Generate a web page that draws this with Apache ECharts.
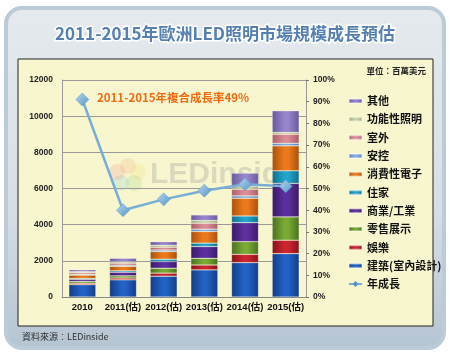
<!DOCTYPE html>
<html><head><meta charset="utf-8">
<script src="https://cdn.jsdelivr.net/npm/echarts@6/dist/echarts.min.js"></script>
<style>html,body{margin:0;padding:0;background:#fff}#c{width:450px;height:357px}</style>
</head><body><div id="c"></div>
<script>
const categories = ['2010','2011(估)','2012(估)','2013(估)','2014(估)','2015(估)'];
const jianzhu  = [680, 950, 1150, 1500, 1900, 2400];
const yule     = [80, 100, 170, 270, 460, 740];
const lingshou = [100, 120, 270, 370, 700, 1290];
const shangye  = [120, 200, 370, 650, 1050, 1850];
const zhujia   = [50, 80, 130, 190, 370, 700];
const xiaofei  = [180, 240, 420, 640, 980, 1380];
const ankong   = [50, 70, 90, 130, 130, 140];
const shiwai   = [90, 110, 150, 330, 370, 500];
const gongneng = [50, 80, 110, 150, 150, 100];
const qita     = [110, 190, 200, 310, 740, 1200];
const growth   = [91, 40, 45, 49, 52, 51];

const seriesDefs = [
  ['建築(室內設計)', jianzhu, '#2262c4', '#143c86'],
  ['娛樂', yule, '#cc2530', '#86141a'],
  ['零售展示', lingshou, '#78aa34', '#4a7020'],
  ['商業/工業', shangye, '#5d2f9e', '#3a1a66'],
  ['住家', zhujia, '#22a4cc', '#136e8c'],
  ['消費性電子', xiaofei, '#ec7a1c', '#a8500c'],
  ['安控', ankong, '#84aee4', '#5a80b8'],
  ['室外', shiwai, '#dc8c96', '#a85e68'],
  ['功能性照明', gongneng, '#c6d4a6', '#98a878'],
  ['其他', qita, '#9684cc', '#685a9c']
];
function grad(c, d){
  return new echarts.graphic.LinearGradient(0,0,1,0,[
    {offset:0,color:d},{offset:0.45,color:c},{offset:0.6,color:c},{offset:1,color:d}]);
}
const series = seriesDefs.map(s => ({
  name: s[0], type: 'bar', stack: 'total', data: s[1], barWidth: 27,
  itemStyle: {color: grad(s[2], s[3]), borderColor: 'rgba(255,255,255,0.35)', borderWidth: 0.6},
  z: 3
}));
series.push({
  name: '年成長', type: 'line', yAxisIndex: 1, data: growth,
  lineStyle: {color: '#78aed6', width: 2.5},
  itemStyle: {color: new echarts.graphic.LinearGradient(0,0,1,1,[{offset:0,color:'#b6d6ee'},{offset:1,color:'#5896c6'}]), borderColor:'#5a92c0', borderWidth:0.5},
  symbol: 'diamond', symbolSize: 13, z: 5
});

const legendOrder = ['其他','功能性照明','室外','安控','消費性電子','住家','商業/工業','零售展示','娛樂','建築(室內設計)','年成長'];
const numFont = '"Liberation Sans Narrow","Liberation Sans",Arial,sans-serif';
const cjk = '"Noto Sans CJK TC","Noto Sans CJK SC",sans-serif';

const chart = echarts.init(document.getElementById('c'), null, {renderer:'canvas'});
chart.setOption({
  animation: false,
  backgroundColor: '#ffffff',
  graphic: [
    {type:'rect', z:-20, shape:{x:6,y:8,width:438,height:340,r:16},
     style:{fill:new echarts.graphic.LinearGradient(0,0,0,1,[{offset:0,color:'#e6eaee'},{offset:0.6,color:'#d6dee5'},{offset:1,color:'#b4c4d1'}]), stroke:'#bccbd8', lineWidth:4}},
    {type:'rect', z:-15, shape:{x:18,y:59,width:415,height:267},
     style:{fill:'#f8f6cf', stroke:'#222', lineWidth:1}},
    {type:'text', z:-10, x:225, y:34,
     style:{text:'2011-2015年歐洲LED照明市場規模成長預估', fill:'#5580b0', font:'bold 17px '+cjk,
       textAlign:'center', textVerticalAlign:'middle', stroke:'#ffffff', lineWidth:3,
       shadowColor:'rgba(40,70,110,0.9)', shadowBlur:2}},
    {type:'text', z:-10, x:22, y:337,
     style:{text:'資料來源：LEDinside', fill:'#333', font:'9px '+cjk, textVerticalAlign:'middle'}},
    {type:'text', z:-10, x:426, y:71,
     style:{text:'單位：百萬美元', fill:'#222', font:'bold 8.5px '+cjk, textAlign:'right', textVerticalAlign:'middle'}},
    {type:'text', z:10, x:97, y:98,
     style:{text:'2011-2015年複合成長率49%', fill:'#f06a12', font:'bold 11.5px '+cjk, textVerticalAlign:'middle'}},
    {type:'group', z:1, children:[
      {type:'circle', shape:{cx:128,cy:166,r:8}, style:{fill:'rgba(240,170,120,0.22)'}},
      {type:'circle', shape:{cx:138,cy:172,r:8}, style:{fill:'rgba(240,220,120,0.22)'}},
      {type:'circle', shape:{cx:134,cy:183,r:8}, style:{fill:'rgba(150,210,120,0.22)'}},
      {type:'circle', shape:{cx:121,cy:183,r:8}, style:{fill:'rgba(120,200,210,0.22)'}},
      {type:'circle', shape:{cx:117,cy:172,r:8}, style:{fill:'rgba(240,140,140,0.22)'}},
      {type:'text', x:150, y:175, style:{text:'LEDinside', fill:'rgba(150,150,150,0.3)', font:'bold 30px "Liberation Sans",Arial,sans-serif', textVerticalAlign:'middle'}}
    ]}
  ],
  grid: {left:62, right:144, top:80, bottom:60},
  legend: {
    orient:'vertical', left:343, top:90, itemWidth:13, itemHeight:4, itemGap:6.3,
    data: legendOrder,
    textStyle:{fontSize:11, lineHeight:12, fontWeight:'bold', color:'#111', fontFamily:cjk}
  },
  xAxis: {
    type:'category', data:categories,
    axisLine:{lineStyle:{color:'#888'}}, axisTick:{show:false},
    axisLabel:{fontSize:9.5, fontWeight:'bold', color:'#111', fontFamily:'"Liberation Sans",Arial,'+cjk, margin:6, interval:0}
  },
  yAxis: [
    {type:'value', min:0, max:12000, interval:2000,
     axisLine:{show:true, lineStyle:{color:'#999'}}, axisTick:{show:false},
     splitLine:{lineStyle:{color:'#9a9a9a', width:1}},
     axisLabel:{fontSize:8.5, fontWeight:'bold', color:'#222', fontFamily:numFont, margin:9, formatter: v => String(v)}},
    {type:'value', min:0, max:100, interval:10,
     axisLine:{show:true, lineStyle:{color:'#999'}}, axisTick:{show:true, length:3, lineStyle:{color:'#777'}},
     splitLine:{show:false},
     axisLabel:{fontSize:8.5, fontWeight:'bold', color:'#222', fontFamily:numFont, margin:7, formatter:'{value}%'}}
  ],
  series: series
});
</script></body></html>
